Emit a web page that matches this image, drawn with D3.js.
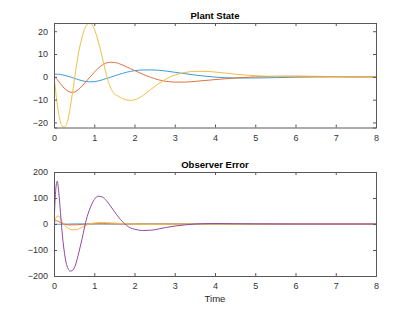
<!DOCTYPE html>
<html>
<head>
<meta charset="utf-8">
<script src="https://cdn.jsdelivr.net/npm/d3@7"></script>
<style>
  body { margin: 0; background: #fff; }
  svg { display: block; font-family: "Liberation Sans", Arial, sans-serif; }
  .tick text { fill: #333; font-size: 9px; }
</style>
</head>
<body>
<div id="chart"></div>
<script>
// sample times (s)
const time = [0, 0.04, 0.08, 0.12, 0.16, 0.2, 0.25, 0.3, 0.35, 0.4, 0.45, 0.5, 0.55, 0.6, 0.7, 0.8, 0.9, 1.0,
  1.1, 1.2, 1.3, 1.4, 1.5, 1.6, 1.7, 1.8, 1.9, 2.0, 2.2, 2.4, 2.6, 2.8, 3.0, 3.25, 3.5, 3.75, 4.0,
  4.5, 5.0, 5.5, 6.0, 6.5, 7.0, 7.5, 8.0];

// Plant State
const plantX1 = [1.2, 1.2, 1.15, 1.1, 1.0, 0.9, 0.7, 0.5, 0.25, 0, -0.3, -0.6, -0.9, -1.2, -1.7, -2.05, -2.2, -2.1,
  -1.8, -1.3, -0.7, -0.2, 0.4, 1.0, 1.5, 2.0, 2.4, 2.7, 3.0, 3.05, 2.9, 2.5, 2.0, 1.4, 0.8, 0.3, -0.1,
  -0.5, -0.5, -0.35, -0.2, -0.05, 0, 0, 0];
const plantX2 = [0, -0.4, -1.2, -2.1, -3, -3.9, -4.9, -5.7, -6.3, -6.7, -6.8, -6.7, -6.3, -5.7, -4, -2, 0, 2,
  3.8, 5.2, 6.1, 6.4, 6.3, 5.9, 5.2, 4.4, 3.6, 2.8, 1.2, -0.2, -1.3, -2.0, -2.3, -2.3, -2.0, -1.6, -1.2,
  -0.5, 0, 0.25, 0.3, 0.2, 0.1, 0, 0];
const plantX3 = [0, -6, -12, -16.5, -19.8, -21.5, -22, -21.3, -18.5, -13.8, -8, -2, 4, 9.5, 17.5, 22.5, 23.5, 21,
  15.5, 8.5, 1, -4.5, -7.5, -8.5, -9.5, -10.1, -10.3, -10.1, -8.3, -5.6, -3, -0.8, 0.8, 1.9, 2.4, 2.4, 2.1,
  1.2, 0.5, 0.15, 0, -0.05, 0, 0, 0];

// Observer Error
const errE1 = [0, -0.5, -1, -1.2, -1.2, -1, -0.8, -0.6, -0.4, -0.2, 0, 0.1, 0.2, 0.2, 0.2, 0.1, 0, 0,
  0, 0, 0, 0, 0, 0, 0, 0, 0, 0, 0, 0, 0, 0, 0, 0, 0, 0, 0,
  0, 0, 0, 0, 0, 0, 0, 0];
const errE2 = [5, 12, 12, 9, 6, 3, 0, -2, -3, -3.5, -3.5, -3.2, -3, -2.5, -1.5, -0.5, 0.3, 0.8,
  1, 1, 0.8, 0.6, 0.4, 0.2, 0.1, 0, 0, 0, 0, 0, 0, 0, 0, 0, 0, 0, 0,
  0, 0, 0, 0, 0, 0, 0, 0];
const errE3 = [0, 20, 31, 30, 22, 10, -2, -10, -16, -20, -22, -22.5, -22, -20, -13, -5, 1, 4,
  5.5, 6, 5.5, 4.5, 3.5, 2.5, 1.5, 0.7, 0, -0.5, -1.2, -1.5, -1.4, -1.1, -0.8, -0.4, -0.1, 0.1, 0.2,
  0.1, 0, 0, 0, 0, 0, 0, 0];
const errE4 = [0, 125, 165, 120, 45, -30, -100, -148, -172, -181, -180, -170, -150, -120, -55, 15, 62, 94,
  107, 104, 90, 70, 48, 27, 9, -5, -15, -20, -25, -24, -19, -13, -8, -3.5, 0, 1.5, 2,
  1.2, 0.5, 0.2, 0, 0, 0, 0, 0];

const xTicks = [0, 1, 2, 3, 4, 5, 6, 7, 8];
const colors = ["#3D9AD6", "#E2703F", "#F0BE45", "#9449A3"];

const width = 415, height = 312;
const left = 54, right = 376;

const svg = d3.select("#chart").append("svg")
  .attr("width", width)
  .attr("height", height);

const x = d3.scaleLinear().domain([0, 8]).range([left, right]);

function drawPanel(cfg) {
  const y = d3.scaleLinear().domain(cfg.domain).range([cfg.bottom, cfg.top]);
  const g = svg.append("g");

  g.append("clipPath").attr("id", cfg.id)
    .append("rect")
    .attr("x", left).attr("y", cfg.top)
    .attr("width", right - left).attr("height", cfg.bottom - cfg.top);

  // lines
  const line = d3.line()
    .x((d, i) => x(time[i]))
    .y(d => y(d))
    .curve(d3.curveMonotoneX);

  g.append("g").attr("clip-path", `url(#${cfg.id})`)
    .selectAll("path")
    .data(cfg.series)
    .join("path")
    .attr("d", d => line(d))
    .attr("fill", "none")
    .attr("stroke", (d, i) => colors[i])
    .attr("stroke-width", 1);

  // axes, ticks inward on all four sides
  const axB = g.append("g").attr("transform", `translate(0,${cfg.bottom})`)
    .call(d3.axisBottom(x).tickValues(xTicks).tickSize(-3).tickPadding(7));
  const axT = g.append("g").attr("transform", `translate(0,${cfg.top})`)
    .call(d3.axisTop(x).tickValues(xTicks).tickSize(-3).tickFormat(""));
  const axL = g.append("g").attr("transform", `translate(${left},0)`)
    .call(d3.axisLeft(y).tickValues(cfg.ticks).tickSize(-3).tickPadding(6));
  const axR = g.append("g").attr("transform", `translate(${right},0)`)
    .call(d3.axisRight(y).tickValues(cfg.ticks).tickSize(-3).tickFormat(""));

  [axB, axT, axL, axR].forEach(a => {
    a.select(".domain").attr("stroke", "#595959").attr("stroke-width", 1);
    a.selectAll(".tick line").attr("stroke", "#595959");
  });

  g.append("text")
    .attr("x", (left + right) / 2)
    .attr("y", cfg.top - 4)
    .attr("text-anchor", "middle")
    .style("font-size", "9.5px")
    .style("font-weight", "bold")
    .attr("fill", "#000")
    .text(cfg.title);

  return y;
}

drawPanel({
  id: "clipTop", title: "Plant State",
  top: 23, bottom: 127.5, domain: [-22.2, 23.6],
  ticks: [-20, -10, 0, 10, 20],
  series: [plantX1, plantX2, plantX3]
});

drawPanel({
  id: "clipBottom", title: "Observer Error",
  top: 172, bottom: 276, domain: [-200, 200],
  ticks: [-200, -100, 0, 100, 200],
  series: [errE1, errE2, errE3, errE4]
});

svg.append("text")
  .attr("x", (left + right) / 2)
  .attr("y", 301.5)
  .attr("text-anchor", "middle")
  .style("font-size", "9.5px")
  .attr("fill", "#262626")
  .text("Time");
</script>
</body>
</html>
